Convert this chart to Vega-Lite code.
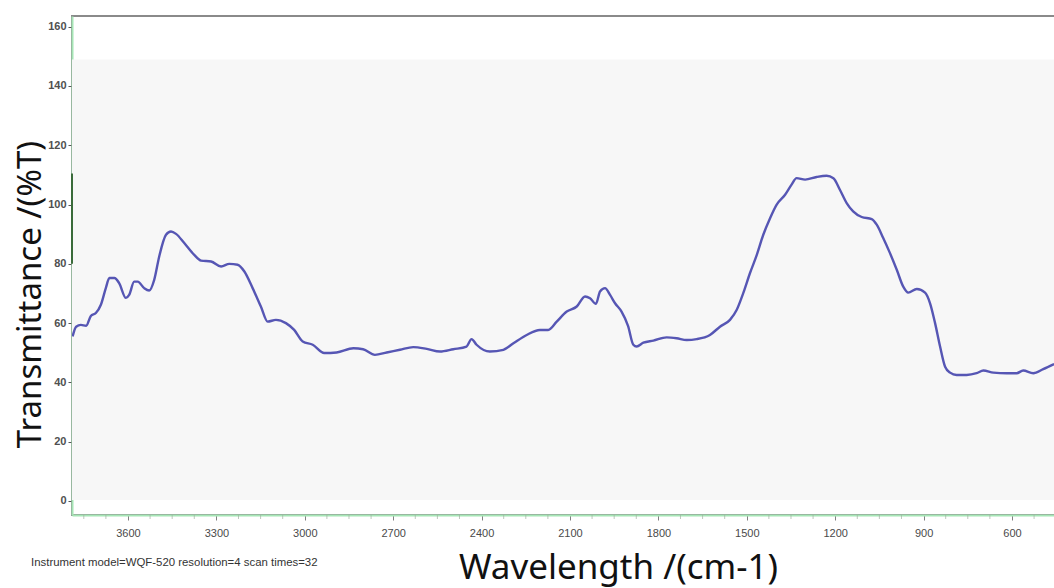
{
  "$schema": "https://vega.github.io/schema/vega-lite/v6.json",
  "autosize": {"type": "none"},
  "width": 984,
  "height": 499,
  "padding": {"left": 72, "top": 16, "right": 0, "bottom": 73},
  "background": "#ffffff",
  "config": {
    "view": {"stroke": "#8a8a8a", "strokeWidth": 2},
    "axis": {"grid": false, "domainColor": "#a6e6b6", "domainWidth": 2, "zindex": 1}
  },
  "datasets": {
    "spectrum": [
      {"wn": 3788, "t": 55.5}, {"wn": 3776, "t": 58.8}, {"wn": 3760, "t": 59.4}, {"wn": 3742, "t": 59.1},
      {"wn": 3726, "t": 62.4}, {"wn": 3709, "t": 63.4}, {"wn": 3692, "t": 66.2}, {"wn": 3675, "t": 71.9},
      {"wn": 3663, "t": 75.2}, {"wn": 3646, "t": 75.2}, {"wn": 3630, "t": 73.5}, {"wn": 3607, "t": 68.5},
      {"wn": 3596, "t": 69.5}, {"wn": 3579, "t": 74.0}, {"wn": 3567, "t": 74.0}, {"wn": 3545, "t": 71.8},
      {"wn": 3528, "t": 71.0}, {"wn": 3511, "t": 74.6}, {"wn": 3494, "t": 82.5}, {"wn": 3471, "t": 89.8},
      {"wn": 3454, "t": 90.9}, {"wn": 3437, "t": 90.1}, {"wn": 3409, "t": 87.0}, {"wn": 3375, "t": 83.0},
      {"wn": 3352, "t": 81.1}, {"wn": 3318, "t": 80.8}, {"wn": 3284, "t": 79.1}, {"wn": 3256, "t": 80.0},
      {"wn": 3228, "t": 79.7}, {"wn": 3205, "t": 77.4}, {"wn": 3177, "t": 71.8}, {"wn": 3149, "t": 65.6},
      {"wn": 3126, "t": 60.5}, {"wn": 3098, "t": 61.1}, {"wn": 3064, "t": 60.0}, {"wn": 3036, "t": 57.7},
      {"wn": 3007, "t": 53.8}, {"wn": 2973, "t": 52.7}, {"wn": 2934, "t": 49.9}, {"wn": 2892, "t": 50.1},
      {"wn": 2835, "t": 51.5}, {"wn": 2802, "t": 51.2}, {"wn": 2762, "t": 49.3}, {"wn": 2722, "t": 50.1},
      {"wn": 2677, "t": 51.0}, {"wn": 2632, "t": 51.9}, {"wn": 2586, "t": 51.3}, {"wn": 2541, "t": 50.4},
      {"wn": 2496, "t": 51.2}, {"wn": 2451, "t": 52.1}, {"wn": 2434, "t": 54.6}, {"wn": 2417, "t": 52.7},
      {"wn": 2372, "t": 50.4}, {"wn": 2326, "t": 51.0}, {"wn": 2292, "t": 53.2}, {"wn": 2247, "t": 56.0},
      {"wn": 2202, "t": 57.7}, {"wn": 2174, "t": 57.7}, {"wn": 2145, "t": 60.5}, {"wn": 2111, "t": 63.9},
      {"wn": 2077, "t": 65.6}, {"wn": 2049, "t": 69.0}, {"wn": 2032, "t": 68.4}, {"wn": 2012, "t": 66.5},
      {"wn": 1998, "t": 70.7}, {"wn": 1981, "t": 71.8}, {"wn": 1964, "t": 69.5}, {"wn": 1947, "t": 66.7},
      {"wn": 1925, "t": 63.9}, {"wn": 1903, "t": 59.1}, {"wn": 1885, "t": 52.7}, {"wn": 1874, "t": 52.1},
      {"wn": 1851, "t": 53.4}, {"wn": 1817, "t": 54.1}, {"wn": 1772, "t": 55.2}, {"wn": 1738, "t": 54.9},
      {"wn": 1704, "t": 54.3}, {"wn": 1670, "t": 54.6}, {"wn": 1625, "t": 56.0}, {"wn": 1591, "t": 58.8},
      {"wn": 1557, "t": 61.1}, {"wn": 1534, "t": 64.5}, {"wn": 1512, "t": 70.1}, {"wn": 1489, "t": 76.9},
      {"wn": 1466, "t": 83.0}, {"wn": 1444, "t": 89.8}, {"wn": 1421, "t": 95.4}, {"wn": 1399, "t": 99.9},
      {"wn": 1370, "t": 103.3}, {"wn": 1348, "t": 106.7}, {"wn": 1331, "t": 108.9}, {"wn": 1302, "t": 108.4},
      {"wn": 1263, "t": 109.3}, {"wn": 1229, "t": 109.7}, {"wn": 1206, "t": 108.9}, {"wn": 1184, "t": 105.0},
      {"wn": 1161, "t": 100.5}, {"wn": 1139, "t": 97.7}, {"wn": 1110, "t": 95.8}, {"wn": 1076, "t": 95.1},
      {"wn": 1059, "t": 93.2}, {"wn": 1037, "t": 88.7}, {"wn": 1014, "t": 83.6}, {"wn": 991, "t": 78.0},
      {"wn": 969, "t": 72.3}, {"wn": 952, "t": 70.3}, {"wn": 923, "t": 71.5}, {"wn": 895, "t": 70.3},
      {"wn": 878, "t": 66.7}, {"wn": 861, "t": 60.0}, {"wn": 844, "t": 52.1}, {"wn": 827, "t": 45.3},
      {"wn": 810, "t": 43.3}, {"wn": 788, "t": 42.5}, {"wn": 754, "t": 42.5}, {"wn": 720, "t": 43.1},
      {"wn": 697, "t": 44.0}, {"wn": 663, "t": 43.3}, {"wn": 618, "t": 43.1}, {"wn": 584, "t": 43.1},
      {"wn": 562, "t": 44.0}, {"wn": 528, "t": 43.1}, {"wn": 494, "t": 44.5}, {"wn": 457, "t": 46.2}
    ],
    "panel": [{"x1": 450.6, "x2": 3790, "y1": 0.3, "y2": 148.9}],
    "mark": [{"x": 3790, "y1": 80, "y2": 110.5}],
    "minor": [
      {"wn": 525}, {"wn": 675}, {"wn": 750}, {"wn": 825}, {"wn": 975}, {"wn": 1050}, {"wn": 1125},
      {"wn": 1275}, {"wn": 1350}, {"wn": 1425}, {"wn": 1575}, {"wn": 1650}, {"wn": 1725},
      {"wn": 1875}, {"wn": 1950}, {"wn": 2025}, {"wn": 2175}, {"wn": 2250}, {"wn": 2325},
      {"wn": 2475}, {"wn": 2550}, {"wn": 2625}, {"wn": 2775}, {"wn": 2850}, {"wn": 2925},
      {"wn": 3075}, {"wn": 3150}, {"wn": 3225}, {"wn": 3375}, {"wn": 3450}, {"wn": 3525},
      {"wn": 3675}, {"wn": 3750}
    ],
    "note": [{"label": "Instrument model=WQF-520 resolution=4 scan times=32"}]
  },
  "layer": [
    {
      "data": {"name": "panel"},
      "mark": {"type": "rect", "color": "#f7f7f7"},
      "encoding": {
        "x": {"field": "x1", "type": "quantitative"},
        "x2": {"field": "x2"},
        "y": {"field": "y1", "type": "quantitative"},
        "y2": {"field": "y2"}
      }
    },
    {
      "data": {"name": "mark"},
      "mark": {"type": "rule", "color": "#3a6b3a", "strokeWidth": 2},
      "encoding": {
        "x": {"field": "x", "type": "quantitative"},
        "y": {"field": "y1", "type": "quantitative"},
        "y2": {"field": "y2"}
      }
    },
    {
      "data": {"name": "spectrum"},
      "mark": {"type": "line", "color": "#5656b4", "strokeWidth": 2.4, "strokeJoin": "round", "interpolate": "monotone", "clip": true},
      "encoding": {
        "x": {"field": "wn", "type": "quantitative", "sort": null,
          "scale": {"domain": [450.6, 3790], "reverse": true, "nice": false, "zero": false},
          "axis": {
            "values": [600, 900, 1200, 1500, 1800, 2100, 2400, 2700, 3000, 3300, 3600],
            "format": "d",
            "labelOverlap": false,
            "labelFont": "Liberation Sans", "labelFontSize": 11, "labelColor": "#4a4a4a",
            "labelPadding": 7,
            "tickColor": "#808080",
            "tickSize": 5,
            "title": "Wavelength /(cm-1)",
            "titleFont": "Noto Sans", "titleFontSize": 35, "titleFontWeight": "normal", "titleColor": "#111111",
            "titleX": 546, "titleY": 63, "titleBaseline": "alphabetic", "titleAlign": "center"
          }},
        "y": {"field": "t", "type": "quantitative",
          "scale": {"domain": [-4.73, 163.6], "nice": false, "zero": false},
          "axis": {
            "values": [0,5,10,15,20,25,30,35,40,45,50,55,60,65,70,75,80,85,90,95,100,105,110,115,120,125,130,135,140,145,150,155,160],
            "labelExpr": "datum.value % 20 === 0 ? datum.label : ''",
            "labelOverlap": false,
            "labelFont": "Liberation Sans", "labelFontSize": 11, "labelFontWeight": "bold", "labelColor": "#505050",
            "labelPadding": 2,
            "tickColor": {"condition": {"test": "datum.value % 20 === 0", "value": "#555555"}, "value": "#7fcf8f"},
            "tickSize": {"condition": {"test": "datum.value % 20 === 0", "value": 4}, "value": 2},
            "title": "Transmittance /(%T)",
            "titleFont": "Noto Sans", "titleFontSize": 33, "titleFontWeight": "normal", "titleColor": "#111111",
            "titleAngle": -90, "titleX": -42, "titleY": 278, "titleAlign": "center", "titleBaseline": "middle"
          }},
        "order": {"field": "wn", "sort": "descending"}
      }
    },
    {
      "data": {"name": "minor"},
      "mark": {"type": "tick", "orient": "vertical", "color": "#a0b0a0", "size": 4, "thickness": 1, "yOffset": 2, "clip": false},
      "encoding": {
        "x": {"field": "wn", "type": "quantitative"},
        "y": {"datum": -4.73, "type": "quantitative"}
      }
    },
    {
      "data": {"name": "note"},
      "mark": {"type": "text", "align": "left", "baseline": "middle", "font": "Liberation Sans", "fontSize": 11.4, "color": "#333333"},
      "encoding": {
        "x": {"datum": 3929, "type": "quantitative"},
        "y": {"datum": -20.9, "type": "quantitative"},
        "text": {"field": "label"}
      }
    }
  ]
}
